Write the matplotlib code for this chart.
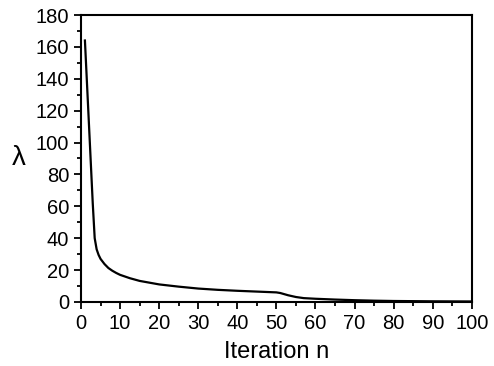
import numpy as np
import matplotlib.pyplot as plt
from matplotlib.ticker import MultipleLocator

plt.rcParams['font.family'] = ['Liberation Sans', 'DejaVu Sans']

# values
iteration = [1, 2, 3, 3.5, 4, 4.5, 5, 6, 7, 8, 9, 10, 12.5, 15, 20, 25, 30, 35,
             40, 45, 50, 51, 53, 55, 57, 60, 65, 70, 75, 80, 90, 100]
lam = [164, 113, 62, 40, 33, 29.5, 27, 23.8, 21.3, 19.6, 18.2, 17, 14.9, 13.2,
       11, 9.6, 8.4, 7.6, 7, 6.5, 6, 5.6, 4.2, 3.1, 2.4, 2, 1.5, 1.1, 0.8, 0.6,
       0.4, 0.3]

fig = plt.figure(figsize=(4.94, 3.66), dpi=100)
ax = fig.add_axes([0.164, 0.175, 0.791, 0.784])
ax.plot(iteration, lam, color='black', linewidth=1.6)

ax.set_xlim(0, 100)
ax.set_ylim(0, 180)
ax.xaxis.set_major_locator(MultipleLocator(10))
ax.xaxis.set_minor_locator(MultipleLocator(5))
ax.yaxis.set_major_locator(MultipleLocator(20))
ax.yaxis.set_minor_locator(MultipleLocator(10))
ax.tick_params(which='both', direction='out', width=1.3, labelsize=14.5,
               top=False, right=False)
ax.tick_params(which='major', length=5)
ax.tick_params(which='minor', length=3)
for s in ax.spines.values():
    s.set_linewidth(1.5)

ax.set_xlabel('Iteration n', fontsize=17, labelpad=6)
ax.set_ylabel('λ', fontsize=20, rotation=0, va='center', ha='center')
ax.yaxis.set_label_coords(-0.159, 0.5)

fig.savefig('out.png', dpi=100)
